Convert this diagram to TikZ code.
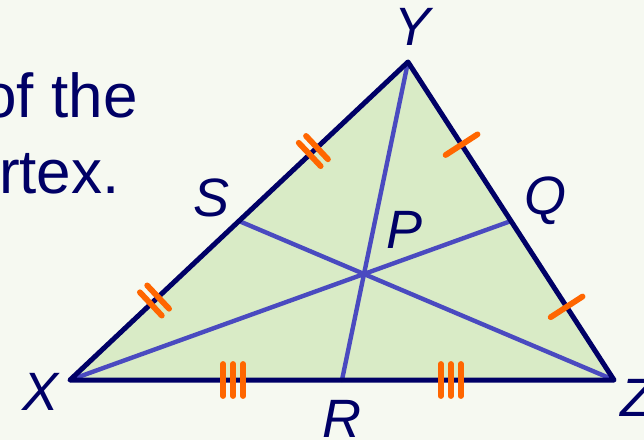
\documentclass[tikz,border=0pt]{standalone}
\usepackage{fontspec}
\setmainfont{Liberation Sans}
\usepackage{xcolor}
\usepackage{tikz}
\usetikzlibrary{calc,decorations.markings}
\newcommand{\figtext}{\fontsize{31}{37}\selectfont}
\newcommand{\figlabel}{\fontsize{27}{32}\selectfont\itshape}
\definecolor{mdInk}{RGB}{0,0,102}
\definecolor{mdLine}{RGB}{74,74,192}
\definecolor{mdTick}{RGB}{255,102,0}
\definecolor{mdFill}{RGB}{217,235,198}
\definecolor{mdBack}{RGB}{246,249,241}
\tikzset{
  mdSide/.style={draw=mdInk, line width=2.5pt, line join=round},
  mdMedian/.style={draw=mdLine, line width=2.2pt, line cap=round},
  mdMark/.style={draw=mdTick, line width=2.9pt, line cap=round},
  mdLabel/.style={font=\figlabel, text=mdInk, inner sep=0pt},
  mdText/.style={font=\figtext, text=mdInk, inner sep=0pt, anchor=base east},
  % one, two or three strokes across a side
  mdOne/.style={postaction={decorate, decoration={markings,
    mark=at position #1 with {\draw[mdMark] (0,-19) -- (0,19);}}}},
  mdTwo/.style={postaction={decorate, decoration={markings,
    mark=at position #1 with {\draw[mdMark] (-5,-16) -- (-5,16) (5,-16) -- (5,16);}}}},
  mdThree/.style={postaction={decorate, decoration={markings,
    mark=at position #1 with {\draw[mdMark] (-10,-16) -- (-10,16) (0,-16) -- (0,16) (10,-16) -- (10,16);}}}}
}
\begin{document}
\begin{tikzpicture}[x=0.5pt,y=-0.5pt]
\clip (0,0) rectangle (644,440);
\fill[mdBack] (0,0) rectangle (644,440);
\coordinate (X) at (70,380);
\coordinate (Y) at (408,62);
\coordinate (Z) at (614,380);
\coordinate (R) at ($(X)!0.5!(Z)$);
\coordinate (S) at ($(X)!0.5!(Y)$);
\coordinate (Q) at ($(Y)!0.5!(Z)$);
\coordinate (P) at ($(R)!1/3!(Y)$);
\node[mdText] (line1) at (138,117) {of the};
\node[mdText] (line2) at (120,193) {rtex.};
\fill[mdFill] (X) -- (Y) -- (Z) -- cycle;
\draw[mdMedian] (X) -- (Q);
\draw[mdMedian] (Y) -- (R);
\draw[mdMedian] (Z) -- (S);
\draw[mdSide] (X) -- (Y) -- (Z) -- cycle;
\path[mdTwo=0.25, mdTwo=0.72] (X) -- (Y);
\path[mdOne=0.26, mdOne=0.77] (Y) -- (Z);
\path[mdThree=0.3, mdThree=0.7] (X) -- (Z);
\node[mdLabel] (lY) at (413,27) {Y};
\node[mdLabel] (lS) at (212,198) {S};
\node[mdLabel] (lQ) at (545,201) {Q};
\node[mdLabel] (lP) at (405,230) {P};
\node[mdLabel] (lX) at (41,392) {X};
\node[mdLabel] (lR) at (342,419) {R};
\node[mdLabel] (lZ) at (637,398) {Z};
\end{tikzpicture}
\end{document}
